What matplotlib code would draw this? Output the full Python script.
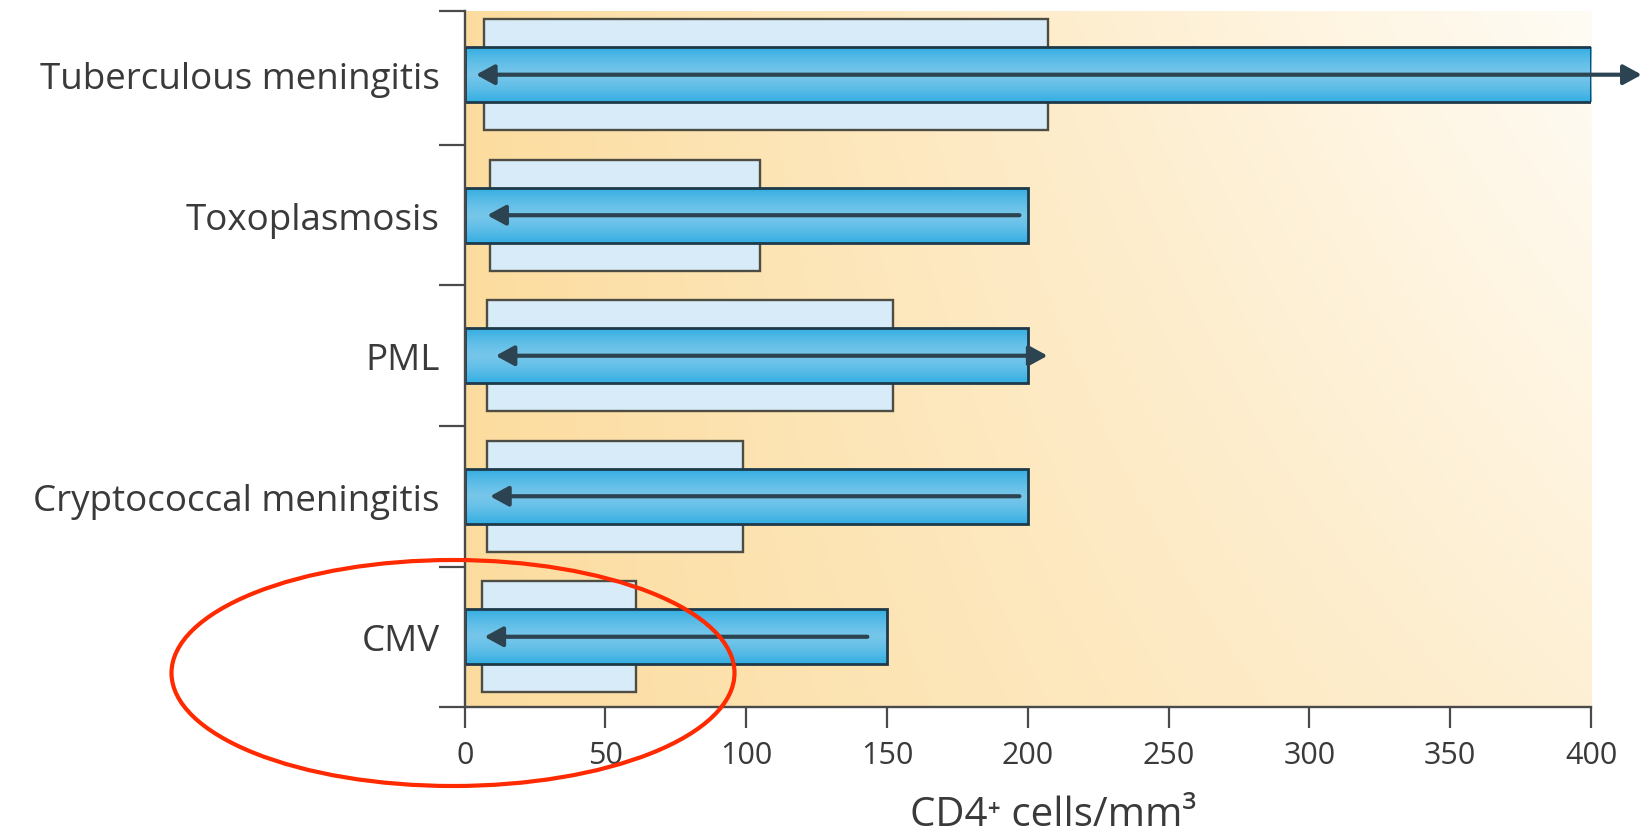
import numpy as np
import matplotlib
matplotlib.use('Agg')
import matplotlib.pyplot as plt
from matplotlib.patches import Ellipse

# ---- data ----
categories = ['Tuberculous meningitis', 'Toxoplasmosis', 'PML',
              'Cryptococcal meningitis', 'CMV']
light_start = [7, 9, 8, 8, 6]
light_end = [207, 105, 152, 99, 61]
dark_end = [400, 200, 200, 200, 150]
arrow_left = [4, 8, 11, 9, 7]
arrow_right = [418, 197, 207, 197, 143]
arrow_both = [True, False, True, False, False]
xticks = [0, 50, 100, 150, 200, 250, 300, 350, 400]

plt.rcParams['font.family'] = ['Open Sans', 'DejaVu Sans']
TXT = '#3a3a3a'
AX = '#4a4a4a'

fig = plt.figure(figsize=(16.52, 8.37), dpi=100)
fig.patch.set_facecolor('white')
ax = fig.add_axes([0.2813, 0.1541, 0.6818, 0.831])
ax.set_facecolor('none')

ypos = np.arange(len(categories))[::-1]
YMIN, YMAX = -0.5, 4.45
XMAX = xticks[-1]

# background gradient
nx, ny = 300, 200
tx = np.linspace(0, 1, nx)[None, :]
ty = np.linspace(0, 1, ny)[:, None]
f = np.clip(0.62 * tx ** 0.9 + 0.38 * ty * tx, 0, 1)
c0 = np.array([252, 220, 158]) / 255.0
c1 = np.array([255, 252, 245]) / 255.0
bg = c0[None, None, :] * (1 - f[..., None]) + c1[None, None, :] * f[..., None]
ax.imshow(bg, extent=(0, XMAX, YMIN, YMAX), origin='lower', aspect='auto',
          zorder=0, interpolation='bilinear')

# light bars
ax.barh(ypos, np.subtract(light_end, light_start), left=light_start,
        height=0.79, color='#d7ebf8', edgecolor='#4d4d44', linewidth=1.7,
        zorder=2)

# dark bars with vertical gradient
bars = ax.barh(ypos, dark_end, height=0.39, color='none',
               edgecolor='#1e3a4a', linewidth=2.0, zorder=4)
prof = np.linspace(-1, 1, 60)
w = 1 - np.abs(prof) ** 1.4
e = np.array([52, 174, 226]) / 255.0
m = np.array([118, 198, 234]) / 255.0
grad = e[None, :] * (1 - w[:, None]) + m[None, :] * w[:, None]
grad = np.repeat(grad[:, None, :], 2, axis=1)
for b in bars:
    x0, y0 = b.get_x(), b.get_y()
    im = ax.imshow(grad, extent=(x0, x0 + b.get_width(), y0, y0 + b.get_height()),
                   origin='lower', aspect='auto', zorder=3, interpolation='bilinear')
    im.set_clip_path(b)

# arrows
for yy, xl, xr, both in zip(ypos, arrow_left, arrow_right, arrow_both):
    style = '<|-|>' if both else '-|>'
    ax.annotate('', xy=(xl, yy), xytext=(xr, yy),
                arrowprops=dict(arrowstyle=style + ',head_length=0.55,head_width=0.3',
                                mutation_scale=20, color='#2c4451', lw=3.0,
                                shrinkA=0, shrinkB=0),
                annotation_clip=False, zorder=5)

ax.set_xlim(0, XMAX)
ax.set_ylim(YMIN, YMAX)

for s in ['top', 'right']:
    ax.spines[s].set_visible(False)
for s in ['left', 'bottom']:
    ax.spines[s].set_color(AX)
    ax.spines[s].set_linewidth(1.7)
    ax.spines[s].set_zorder(6)

ax.set_xticks(xticks)
ax.set_xticklabels([str(v) for v in xticks])
ax.tick_params(axis='x', direction='out', length=15, width=1.6, color=AX,
               labelsize=22, labelcolor=TXT, pad=9)

ax.set_yticks([-0.5, 0.5, 1.5, 2.5, 3.5, YMAX])
ax.set_yticklabels([])
ax.tick_params(axis='y', which='major', direction='out', length=19, width=1.6,
               color=AX)
ax.set_yticks(ypos, minor=True)
ax.set_yticklabels(categories, minor=True)
ax.tick_params(axis='y', which='minor', length=0, pad=18, labelsize=26.5,
               labelcolor=TXT)

fig.text(1053 / 1652, 1 - 816 / 837, 'CD4\u207a cells/mm\u00b3', ha='center',
         va='center', fontsize=29, color=TXT)

# red highlight ellipse (inch coordinates)
ell = Ellipse((4.53, 8.37 - 6.74), 5.63, 2.26, angle=0,
              transform=fig.dpi_scale_trans, fill=False, edgecolor='#ff2a00',
              linewidth=3.0, zorder=10)
fig.patches.append(ell)

fig.savefig('out.png', dpi=100, facecolor='white')
